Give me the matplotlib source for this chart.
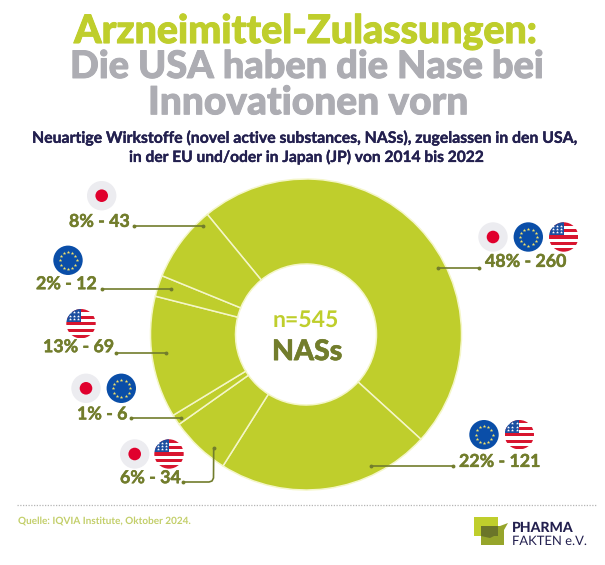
import matplotlib
matplotlib.use("Agg")
import matplotlib.pyplot as plt
import matplotlib.patheffects as pe
import numpy as np
from matplotlib.patches import Circle, Rectangle, Polygon

# data
categories = ["JP EU USA", "EU USA", "JP USA", "JP EU", "USA", "EU", "JP"]
counts = [260, 121, 34, 6, 69, 12, 43]
labels = ["48% - 260", "22% - 121", "6% - 34", "1% - 6", "13% - 69", "2% - 12", "8% - 43"]
title_lines = ["Arzneimittel-Zulassungen:", "Die USA haben die Nase bei", "Innovationen vorn"]
subtitle_lines = ["Neuartige Wirkstoffe (novel active substances, NASs), zugelassen in den USA,",
                  "in der EU und/oder in Japan (JP) von 2014 bis 2022"]
source = "Quelle: IQVIA Institute, Oktober 2024."

LIME = "#bfce2c"
OLIVE = "#727d2c"
GRAY = "#adadb3"
NAVY = "#23204f"
W, H = 605, 565

plt.rcParams["font.family"] = ["Lato", "DejaVu Sans"]
plt.rcParams["text.hinting"] = "no_hinting"
plt.rcParams["text.hinting_factor"] = 1
fig = plt.figure(figsize=(W / 100, H / 100), dpi=100)
ax = fig.add_axes([0, 0, 1, 1])


def Y(y):
    return H - y


CX, CY, R, r = 306, 334.5, 155.5, 70.5
ax.pie(counts, center=(CX, Y(CY)), radius=R, startangle=129.4, counterclock=False,
       colors=[LIME] * len(counts),
       wedgeprops=dict(width=R - r, edgecolor="#f4f6c8", linewidth=1.1))
ax.set_xlim(0, W)
ax.set_ylim(0, H)
ax.set_aspect("auto")
ax.axis("off")


def txt(x, y, s, size, color, ha="center", weight="bold", stroke=0.0):
    t = ax.text(x, Y(y), s, fontsize=size, color=color, ha=ha, va="center", fontweight=weight)
    if stroke:
        t.set_path_effects([pe.withStroke(linewidth=stroke, foreground=color)])
    return t


# titles (left edges)
for x, y, s, c, fs in zip([74, 70, 148], [32, 67, 103], title_lines, [LIME, GRAY, GRAY], [28.3, 27.3, 28.0]):
    txt(x, y, s, fs, c, ha="left", weight="black", stroke=0.7)
for x, y, s, fs in zip([32, 129], [138, 157], subtitle_lines, [11.38, 11.2]):
    txt(x, y, s, fs, NAVY, ha="left", weight="bold", stroke=0.25)

# centre
txt(305.5, 320, "n=545", 16.5, LIME)
txt(272, 352, "NASs", 20.5, OLIVE, ha="left", weight="black", stroke=0.4)

# value labels (left edges)
pos = [(485, 261.7), (459, 461.7), (120, 478), (77, 414.3), (43, 347), (36, 284), (69, 221.7)]
for (x, y), s in zip(pos, labels):
    txt(x, y, s, 12.8, OLIVE, ha="left", stroke=0.35)


# leader lines
def leader(pts):
    xs = [p[0] for p in pts]
    ys = [Y(p[1]) for p in pts]
    ax.plot(xs, ys, color=OLIVE, lw=1.2, zorder=5, solid_capstyle="round", solid_joinstyle="round")
    ax.plot([xs[0], xs[-1]], [ys[0], ys[-1]], "o", color=OLIVE, ms=2.8, zorder=5, mew=0)


for pts in [[(134, 226.3), (203, 226.3)], [(102, 289.3), (171, 289.3)],
            [(116, 352.7), (166, 352.7)], [(131, 418.3), (181, 418.3)],
            [(437.7, 267.7), (479.3, 267.7)], [(370.7, 466.3), (453.3, 466.3)],
            [(183.3, 482), (209, 482), (212, 481), (213.5, 478), (213.7, 448.3)]]:
    leader(pts)

FR = 14.7


def flag_jp(cx, cy):
    ax.add_patch(Circle((cx, Y(cy)), FR, fc="#ececf0", ec="none", zorder=6))
    ax.add_patch(Circle((cx, Y(cy)), 6.3, fc="#e0002d", ec="none", zorder=7))


def flag_eu(cx, cy):
    ax.add_patch(Circle((cx, Y(cy)), FR, fc="#0a4ea8", ec="none", zorder=6))
    a = np.deg2rad(np.arange(0, 360, 30))
    ax.scatter(cx + 8.5 * np.cos(a), Y(cy) + 8.5 * np.sin(a), marker="*", s=7, c="#f4e26a",
               linewidths=0, zorder=7)


def flag_us(cx, cy):
    c = Circle((cx, Y(cy)), FR, transform=ax.transData, fc="white", ec="none", zorder=6)
    ax.add_patch(c)
    top = Y(cy) + FR
    h = 2 * FR / 9
    for i in range(0, 9, 2):
        st = Rectangle((cx - FR, top - (i + 1) * h), 2 * FR, h, fc="#d8152f", ec="none", zorder=7)
        ax.add_patch(st)
        st.set_clip_path(c)
    cn = Rectangle((cx - FR, top - 4 * h), FR, 4 * h, fc="#1c4fa0", ec="none", zorder=8)
    ax.add_patch(cn)
    cn.set_clip_path(c)
    for row in range(3):
        for col in range(3):
            ax.scatter(cx - FR + 3.5 + col * 4.2, top - 3 * h / 2 - row * 3.2 + 1.5, marker="*", s=5,
                       c="white", linewidths=0, zorder=9)


for f, x, y in [(flag_jp, 101.7, 195.7), (flag_eu, 68, 260.3), (flag_us, 81, 323.7),
                (flag_jp, 86, 388.3), (flag_eu, 121.3, 388.3),
                (flag_jp, 134.7, 454), (flag_us, 169, 454),
                (flag_jp, 493, 237), (flag_eu, 528.3, 237), (flag_us, 563.7, 237),
                (flag_eu, 484, 434.7), (flag_us, 519.3, 434.7)]:
    f(x, y)

# footer
ax.plot([17, 596], [Y(505), Y(505)], color="#b5b5b5", lw=0.9, ls=(0, (1, 1.2)))
txt(17.5, 521, source, 7.2, "#c3cf6a", ha="left", weight="bold")

# logo
ax.add_patch(Rectangle((474, Y(536)), 24, 19, fc=LIME, ec="none", zorder=3))
ax.add_patch(Polygon([(481, Y(526)), (500, Y(526)), (508, Y(523)), (504, Y(530)), (504, Y(545)), (481, Y(545))],
                     fc="#96a52b", ec="none", zorder=4))
ax.add_patch(Polygon([(481, Y(526)), (498, Y(526)), (498, Y(536)), (494, Y(536)), (490, Y(538)), (481, Y(536))],
                     fc="#6b7529", ec="none", zorder=5))
txt(512, 527.5, "PHARMA", 10.2, NAVY, ha="left", weight="black")
txt(512, 541, "FAKTEN e.V.", 9.4, NAVY, ha="left", weight="normal")

fig.savefig("out.png", dpi=100)
